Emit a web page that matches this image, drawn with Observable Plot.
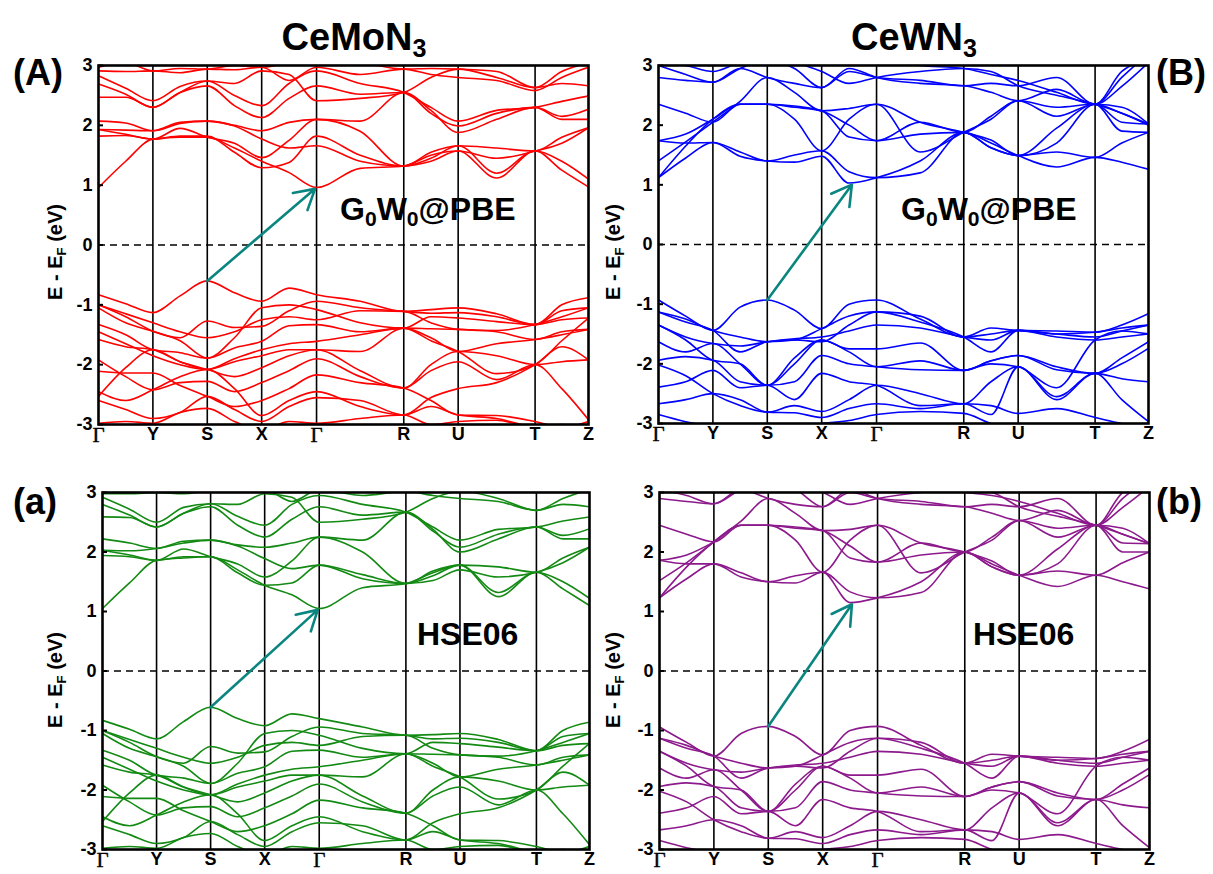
<!DOCTYPE html>
<html><head><meta charset="utf-8">
<script src="https://cdn.jsdelivr.net/npm/d3@7"></script>
<script src="https://cdn.jsdelivr.net/npm/@observablehq/plot@0.6"></script>
<style>
body{margin:0;background:#fff;}
#fig{position:relative;width:1213px;height:874px;overflow:hidden;background:#fff;font-family:"Liberation Sans",Arial,sans-serif;}
.ov{position:absolute;font-weight:bold;color:#000;white-space:nowrap;line-height:1;}
.ov sub{font-size:0.66em;vertical-align:-0.28em;line-height:0;}
.ylab{position:absolute;font-weight:bold;font-size:20px;line-height:1;white-space:nowrap;transform:translate(-50%,-50%) rotate(-90deg);}
.ylab sub{font-size:0.66em;vertical-align:-0.3em;line-height:0;}
svg{position:absolute;}
</style></head><body><div id="fig"></div>
<script>
// ---- k-path ----
const kLabels = ["Γ","Y","S","X","Γ","R","U","T","Z"];
const kTicks  = [0, 0.111, 0.222, 0.333, 0.445, 0.623, 0.734, 0.891, 1];
// sample positions: high-symmetry points and segment midpoints
const kPath = [0, 0.0555, 0.111, 0.1665, 0.222, 0.2775, 0.333, 0.389, 0.445, 0.534, 0.623, 0.6785, 0.734, 0.8125, 0.891, 0.9455, 1];
const yTicks = [-3, -2, -1, 0, 1, 2, 3];

// ---- CeMoN3 G0W0@PBE (A) ----
const moGWcond = [
 [0.96,1.40,1.77,1.80,1.80,1.62,1.40,1.21,0.96,1.28,1.32,1.50,1.57,1.12,1.57,1.25,0.97],
 [1.82,1.83,1.77,1.82,1.82,1.55,1.29,1.38,1.82,1.50,1.32,1.45,1.66,1.20,1.57,1.40,1.10],
 [1.93,1.92,1.91,2.03,2.07,1.99,1.77,1.62,1.66,1.40,1.32,1.55,1.66,1.62,1.57,1.80,1.96],
 [2.07,2.04,1.91,2.05,2.07,2.00,1.91,2.05,2.10,2.07,2.55,2.20,1.99,2.20,2.30,2.15,2.27],
 [2.47,2.47,2.30,2.55,2.66,2.33,2.13,2.45,2.66,2.52,2.55,2.25,1.88,2.10,2.30,2.10,2.10],
 [2.69,2.52,2.30,2.55,2.74,2.50,2.33,2.70,2.91,2.70,2.55,2.30,2.07,2.25,2.30,2.40,2.49],
 [2.83,2.62,2.41,2.65,2.74,2.70,2.91,2.85,2.41,2.45,2.55,2.80,2.94,2.80,2.63,2.70,2.66],
 [2.91,2.90,2.91,2.88,2.94,2.93,2.97,2.75,2.97,2.85,2.94,2.85,2.80,2.75,2.58,2.80,2.97],
 [2.97,3.05,2.91,2.95,2.94,3.00,2.97,3.05,3.10,3.05,2.94,2.95,2.94,2.90,2.63,2.90,3.05],
 [1.93,1.85,1.77,1.95,1.80,1.70,1.46,1.75,2.10,1.90,1.32,1.40,1.57,1.45,1.57,1.70,1.96]
];
const moGWval = [
 [-0.83,-0.98,-1.13,-0.85,-0.60,-0.80,-0.94,-0.72,-0.83,-0.94,-1.11,-1.08,-1.05,-1.15,-1.33,-1.00,-0.88],
 [-1.00,-1.20,-1.44,-1.55,-1.27,-1.38,-1.36,-1.10,-0.94,-1.05,-1.11,-1.14,-1.13,-1.20,-1.33,-1.10,-1.05],
 [-1.05,-1.30,-1.44,-1.60,-1.89,-1.55,-1.05,-1.00,-1.08,-1.30,-1.39,-1.20,-1.22,-1.28,-1.33,-1.25,-1.22],
 [-1.33,-1.50,-1.75,-1.80,-1.89,-1.72,-1.61,-1.35,-1.33,-1.45,-1.39,-1.40,-1.41,-1.45,-1.58,-1.45,-1.41],
 [-1.58,-1.70,-1.75,-1.95,-2.08,-1.90,-1.75,-1.65,-1.61,-1.50,-1.39,-1.55,-1.78,-1.65,-1.58,-1.50,-1.41],
 [-2.53,-2.05,-1.75,-1.95,-2.08,-2.20,-2.05,-1.85,-1.75,-2.10,-2.39,-2.00,-1.78,-1.85,-2.00,-1.95,-1.92],
 [-1.92,-2.20,-2.42,-2.30,-2.28,-2.45,-2.30,-2.10,-1.90,-2.20,-2.39,-2.10,-1.95,-2.25,-2.00,-2.40,-2.92],
 [-2.11,-2.14,-2.14,-2.35,-2.53,-2.70,-2.60,-2.40,-2.17,-2.30,-2.39,-2.60,-2.84,-2.85,-2.95,-3.05,-2.95],
 [-2.45,-2.60,-2.42,-2.20,-2.08,-2.40,-2.85,-2.60,-2.45,-2.70,-2.84,-2.55,-2.40,-2.30,-2.00,-1.70,-1.92],
 [-2.98,-2.95,-2.98,-2.80,-2.73,-2.95,-3.10,-2.95,-2.98,-2.90,-2.84,-3.00,-2.95,-2.93,-3.05,-3.00,-3.10],
 [-1.00,-1.15,-1.30,-1.45,-1.55,-1.45,-1.25,-1.20,-1.25,-1.10,-1.11,-1.30,-1.41,-1.43,-1.33,-1.20,-1.05],
 [-1.45,-1.65,-1.85,-2.00,-2.08,-1.95,-1.85,-1.75,-1.75,-1.78,-1.39,-1.60,-1.78,-2.15,-2.00,-1.60,-1.22],
 [-2.60,-2.75,-2.90,-2.80,-2.53,-2.75,-2.95,-2.70,-2.55,-2.60,-2.84,-2.70,-2.84,-2.90,-3.05,-3.10,-3.10]
];

// ---- CeWN3 G0W0@PBE (B) ----
const wGWcond = [
 [1.12,1.45,1.71,1.48,1.40,1.38,1.48,1.03,1.12,1.40,1.88,1.70,1.49,1.30,1.46,1.38,1.26],
 [1.12,1.65,2.10,2.35,2.35,2.32,2.24,2.00,1.74,1.85,1.88,1.62,1.49,1.55,1.46,1.70,1.88],
 [1.40,1.72,2.05,2.40,2.80,2.55,2.24,2.28,2.35,2.05,1.88,1.75,1.49,1.95,2.35,2.20,2.02],
 [1.74,1.70,1.71,1.55,1.40,1.50,1.57,1.22,1.12,1.20,1.88,1.62,1.49,1.70,2.35,1.90,1.88],
 [2.35,2.20,2.05,2.35,2.35,2.10,1.57,2.10,2.35,1.55,1.88,2.10,2.41,2.15,2.35,2.05,2.02],
 [2.80,2.75,2.72,2.95,3.10,2.95,2.63,2.95,2.80,2.70,2.66,2.55,2.41,2.60,2.35,2.65,3.05],
 [3.00,2.85,2.72,2.95,2.80,2.70,2.63,2.90,2.80,2.75,2.66,2.70,2.66,2.80,2.35,2.90,3.10],
 [3.05,3.00,2.90,3.05,3.10,3.05,2.90,2.70,2.80,2.90,2.95,2.90,2.66,2.50,2.35,2.20,2.00],
 [1.74,1.85,2.10,2.35,2.35,2.30,2.24,1.80,1.74,2.05,1.88,2.15,2.41,2.30,2.35,2.30,2.02],
 [3.10,3.05,3.00,3.10,3.20,3.10,3.00,3.10,3.10,3.00,2.95,2.85,2.75,2.55,2.35,2.80,3.20]
];
const wGWval = [
 [-0.93,-1.20,-1.44,-1.05,-0.93,-1.10,-1.41,-1.00,-0.93,-1.25,-1.55,-1.40,-1.44,-1.45,-1.47,-1.35,-1.16],
 [-1.13,-1.30,-1.44,-1.80,-1.63,-1.60,-1.63,-1.35,-1.13,-1.30,-1.55,-1.80,-1.44,-1.50,-1.47,-1.40,-1.35],
 [-1.35,-1.55,-1.66,-1.70,-1.63,-1.58,-1.55,-1.45,-1.35,-1.40,-1.55,-1.60,-1.44,-1.55,-1.60,-1.55,-1.50],
 [-1.63,-1.80,-1.66,-2.00,-2.36,-2.00,-1.60,-1.80,-2.05,-1.95,-2.11,-1.95,-1.86,-2.05,-2.16,-1.90,-1.63],
 [-1.94,-1.88,-1.94,-2.30,-2.36,-2.30,-1.86,-2.00,-2.05,-2.10,-2.11,-1.95,-1.86,-2.10,-2.16,-2.00,-1.74],
 [-2.02,-2.20,-2.50,-2.70,-2.81,-2.70,-2.80,-2.60,-2.36,-2.50,-2.67,-2.30,-2.05,-2.60,-2.16,-2.25,-2.30],
 [-2.39,-2.30,-2.11,-2.40,-2.36,-2.60,-2.16,-2.30,-2.36,-2.70,-2.67,-2.85,-2.05,-2.55,-2.16,-2.60,-2.97],
 [-2.67,-2.60,-2.50,-2.60,-2.81,-2.82,-2.90,-2.75,-2.67,-2.75,-2.67,-2.70,-2.83,-2.75,-2.90,-3.00,-3.05],
 [-2.85,-2.97,-3.05,-3.10,-3.00,-3.05,-3.00,-2.95,-2.85,-2.80,-2.83,-3.00,-3.10,-3.10,-3.10,-3.10,-3.10],
 [-1.13,-1.25,-1.44,-1.55,-1.63,-1.60,-1.41,-1.20,-1.13,-1.20,-1.55,-1.50,-1.44,-1.50,-1.55,-1.45,-1.35],
 [-1.35,-1.60,-1.94,-2.00,-2.36,-1.90,-1.60,-1.75,-1.75,-1.65,-2.11,-2.00,-2.05,-2.40,-1.60,-1.45,-1.50]
];

// ---- CeMoN3 HSE06 (a) ----
const moHSEcond = [
 [1.05,1.48,1.86,1.90,1.92,1.70,1.44,1.28,1.05,1.40,1.47,1.65,1.78,1.25,1.66,1.38,1.10],
 [1.94,1.92,1.86,1.92,1.92,1.65,1.44,1.48,1.78,1.62,1.47,1.60,1.78,1.32,1.66,1.50,1.22],
 [2.03,2.02,2.06,2.15,2.20,2.10,1.89,1.72,1.78,1.55,1.47,1.68,1.78,1.75,1.66,1.90,2.08],
 [2.22,2.15,2.06,2.18,2.20,2.12,2.08,2.15,2.25,2.20,2.67,2.35,2.08,2.30,2.42,2.28,2.39],
 [2.59,2.58,2.42,2.65,2.76,2.45,2.25,2.55,2.76,2.62,2.67,2.38,2.00,2.22,2.42,2.22,2.22],
 [2.80,2.62,2.42,2.65,2.81,2.60,2.45,2.80,2.95,2.80,2.67,2.42,2.20,2.38,2.42,2.52,2.59],
 [2.92,2.72,2.50,2.75,2.81,2.80,2.98,2.92,2.50,2.55,2.67,2.90,3.02,2.90,2.70,2.80,2.76],
 [2.98,2.98,3.00,2.98,3.02,3.02,3.05,2.85,3.05,2.95,3.02,2.95,2.90,2.85,2.70,2.90,3.05],
 [2.03,1.95,1.86,2.05,1.92,1.80,1.58,1.85,2.25,2.00,1.47,1.52,1.70,1.58,1.66,1.82,2.08]
];
const moHSEval = [
 [-0.83,-0.98,-1.14,-0.85,-0.61,-0.80,-0.92,-0.72,-0.80,-0.94,-1.08,-1.07,-1.05,-1.15,-1.34,-1.00,-0.86],
 [-1.00,-1.20,-1.44,-1.55,-1.27,-1.38,-1.36,-1.10,-0.94,-1.05,-1.08,-1.14,-1.13,-1.20,-1.34,-1.10,-1.05],
 [-1.05,-1.30,-1.44,-1.60,-1.89,-1.55,-1.05,-1.00,-1.08,-1.30,-1.39,-1.20,-1.22,-1.28,-1.34,-1.25,-1.22],
 [-1.33,-1.50,-1.75,-1.80,-1.89,-1.72,-1.61,-1.35,-1.33,-1.45,-1.39,-1.40,-1.41,-1.45,-1.58,-1.45,-1.41],
 [-1.58,-1.70,-1.75,-1.95,-2.08,-1.90,-1.75,-1.65,-1.61,-1.50,-1.39,-1.55,-1.78,-1.65,-1.58,-1.50,-1.41],
 [-2.53,-2.05,-1.75,-1.95,-2.08,-2.20,-2.05,-1.85,-1.75,-2.10,-2.39,-2.00,-1.78,-1.85,-2.00,-1.95,-1.92],
 [-1.92,-2.20,-2.42,-2.30,-2.28,-2.45,-2.30,-2.10,-1.90,-2.20,-2.39,-2.10,-1.95,-2.25,-2.00,-2.40,-2.92],
 [-2.11,-2.14,-2.14,-2.35,-2.53,-2.70,-2.60,-2.40,-2.17,-2.30,-2.39,-2.60,-2.84,-2.85,-2.95,-3.05,-2.95],
 [-2.45,-2.60,-2.42,-2.20,-2.08,-2.40,-2.85,-2.60,-2.45,-2.70,-2.84,-2.55,-2.40,-2.30,-2.00,-1.70,-1.92],
 [-2.98,-2.95,-2.98,-2.80,-2.73,-2.95,-3.10,-2.95,-2.98,-2.90,-2.84,-3.00,-2.95,-2.93,-3.05,-3.00,-3.10],
 [-1.00,-1.15,-1.30,-1.45,-1.55,-1.45,-1.25,-1.20,-1.25,-1.10,-1.08,-1.30,-1.41,-1.43,-1.34,-1.20,-1.05],
 [-1.45,-1.65,-1.85,-2.00,-2.08,-1.95,-1.85,-1.75,-1.75,-1.78,-1.39,-1.60,-1.78,-2.15,-2.00,-1.60,-1.22],
 [-2.60,-2.75,-2.90,-2.80,-2.53,-2.75,-2.95,-2.70,-2.55,-2.60,-2.84,-2.70,-2.84,-2.90,-3.05,-3.10,-3.10]
];

// ---- CeWN3 HSE06 (b) ----
const wHSEcond = [
 [1.23,1.55,1.80,1.58,1.50,1.48,1.66,1.15,1.23,1.50,2.00,1.80,1.61,1.42,1.61,1.50,1.38],
 [1.23,1.75,2.17,2.45,2.45,2.42,2.36,2.10,1.83,1.95,2.00,1.75,1.61,1.68,1.61,1.82,2.00],
 [1.52,1.82,2.17,2.52,2.90,2.65,2.36,2.38,2.45,2.15,2.00,1.85,1.61,2.05,2.45,2.30,2.14],
 [1.86,1.80,1.80,1.65,1.50,1.60,1.66,1.33,1.23,1.32,2.00,1.75,1.61,1.80,2.45,2.00,2.00],
 [2.45,2.30,2.17,2.45,2.45,2.20,1.66,2.20,2.45,1.65,2.00,2.20,2.53,2.25,2.45,2.15,2.14],
 [2.90,2.85,2.81,3.05,3.15,3.05,2.76,3.05,2.90,2.80,2.76,2.65,2.53,2.70,2.45,2.75,3.10],
 [3.05,2.95,2.81,3.05,2.90,2.80,2.76,3.00,2.90,2.85,2.76,2.80,2.76,2.90,2.45,3.00,3.15],
 [3.10,3.08,3.00,3.10,3.15,3.10,3.00,2.80,2.90,3.00,3.05,3.00,2.76,2.60,2.45,2.30,2.14],
 [1.86,1.95,2.17,2.45,2.45,2.40,2.36,1.90,1.83,2.15,2.00,2.25,2.53,2.40,2.45,2.40,2.14],
 [3.15,3.10,3.05,3.15,3.25,3.15,3.05,3.15,3.15,3.05,3.00,2.95,2.85,2.65,2.45,2.90,3.25]
];
const wHSEval = [
 [-0.94,-1.20,-1.43,-1.05,-0.93,-1.10,-1.41,-1.00,-0.93,-1.25,-1.55,-1.40,-1.43,-1.45,-1.47,-1.35,-1.15],
 [-1.13,-1.30,-1.43,-1.80,-1.63,-1.60,-1.63,-1.35,-1.13,-1.30,-1.55,-1.80,-1.43,-1.50,-1.47,-1.40,-1.35],
 [-1.35,-1.55,-1.66,-1.70,-1.63,-1.58,-1.55,-1.45,-1.35,-1.40,-1.55,-1.60,-1.43,-1.55,-1.60,-1.55,-1.50],
 [-1.63,-1.80,-1.66,-2.00,-2.36,-2.00,-1.60,-1.80,-2.05,-1.95,-2.11,-1.95,-1.86,-2.05,-2.16,-1.90,-1.63],
 [-1.94,-1.88,-1.94,-2.30,-2.36,-2.30,-1.86,-2.00,-2.05,-2.10,-2.11,-1.95,-1.86,-2.10,-2.16,-2.00,-1.74],
 [-2.02,-2.20,-2.50,-2.70,-2.81,-2.70,-2.80,-2.60,-2.36,-2.50,-2.67,-2.30,-2.05,-2.60,-2.16,-2.25,-2.30],
 [-2.39,-2.30,-2.11,-2.40,-2.36,-2.60,-2.16,-2.30,-2.36,-2.70,-2.67,-2.85,-2.05,-2.55,-2.16,-2.60,-2.97],
 [-2.67,-2.60,-2.50,-2.60,-2.81,-2.82,-2.90,-2.75,-2.67,-2.75,-2.67,-2.70,-2.83,-2.75,-2.90,-3.00,-3.05],
 [-2.85,-2.97,-3.05,-3.10,-3.00,-3.05,-3.00,-2.95,-2.85,-2.80,-2.83,-3.00,-3.10,-3.10,-3.10,-3.10,-3.10],
 [-1.13,-1.25,-1.43,-1.55,-1.63,-1.60,-1.41,-1.20,-1.13,-1.20,-1.55,-1.50,-1.43,-1.50,-1.55,-1.45,-1.35],
 [-1.35,-1.60,-1.94,-2.00,-2.36,-1.90,-1.60,-1.75,-1.75,-1.65,-2.11,-2.00,-2.05,-2.40,-1.60,-1.45,-1.50]
];

// gap arrows: [k start, E start, k end, E end]
const arrowA = [0.222, -0.60, 0.445, 0.96];
const arrowB = [0.222, -0.93, 0.397, 1.03];
const arrowLa = [0.222, -0.61, 0.445, 1.05];
const arrowLb = [0.222, -0.93, 0.395, 1.15];

const fig = document.getElementById("fig");
const FONT = "Liberation Sans, Arial, sans-serif";

function panel(cfg) {
  const mL = 45, mR = 8, mT = 8, mB = 24;
  const W = cfg.fw + mL + mR, H = cfg.fh + mT + mB;
  const rows = [];
  cfg.bands.forEach((b, bi) => b.forEach((e, i) => rows.push({band: bi, k: kPath[i], E: e})));
  const ticks = kTicks.map((k, i) => ({k, label: kLabels[i]}));
  const a = cfg.arrow;
  const svg = Plot.plot({
    width: W, height: H,
    marginLeft: mL, marginRight: mR, marginTop: mT, marginBottom: mB,
    x: {domain: [0, 1], axis: null},
    y: {domain: [-3, 3], axis: null},
    style: {fontFamily: FONT, background: "transparent", overflow: "visible"},
    marks: [
      Plot.ruleX(kTicks.slice(1, -1), {stroke: "#000", strokeWidth: 1.6}),
      Plot.ruleY([0], {stroke: "#000", strokeWidth: 1.6, strokeDasharray: "7,5"}),
      Plot.line(rows, {x: "k", y: "E", z: "band", stroke: cfg.color, strokeWidth: 1.6, curve: "monotone-x", clip: true}),
      Plot.arrow([{k1: a[0], e1: a[1], k2: a[2], e2: a[3]}], {x1: "k1", y1: "e1", x2: "k2", y2: "e2", stroke: "#0b8580", strokeWidth: 2.6, headLength: 13, insetEnd: 2}),
      Plot.frame({stroke: "#000", strokeWidth: 2.6}),
      Plot.axisY(yTicks, {anchor: "left", tickSize: -5, tickPadding: 11, strokeWidth: 2, tickFormat: d => String(d), fontSize: 18, fontWeight: "bold", fontFamily: FONT}),
      Plot.text(ticks.filter(d => d.label !== "Γ"), {x: "k", text: "label", frameAnchor: "bottom", dy: 15, fontSize: 18, fontWeight: "bold", fontFamily: FONT}),
      Plot.text(ticks.filter(d => d.label === "Γ"), {x: "k", text: "label", frameAnchor: "bottom", dy: 11, lineAnchor: "middle", fontSize: 21, fill: "#000", stroke: "#000", strokeWidth: 0.4, fontFamily: "Liberation Serif, Times New Roman, serif"})
    ]
  });
  svg.style.left = (cfg.fx - mL) + "px";
  svg.style.top = (cfg.fy - mT) + "px";
  fig.appendChild(svg);
}

panel({fx: 97.5, fy: 65, fw: 490, fh: 359, bands: moGWval.concat(moGWcond), color: "#ff0000", arrow: arrowA});
panel({fx: 658.3, fy: 65, fw: 490, fh: 358, bands: wGWval.concat(wGWcond), color: "#0000ff", arrow: arrowB});
panel({fx: 101.5, fy: 492, fw: 487, fh: 357, bands: moHSEval.concat(moHSEcond), color: "#138a13", arrow: arrowLa});
panel({fx: 659.3, fy: 492, fw: 490, fh: 357, bands: wHSEval.concat(wHSEcond), color: "#8c1a8c", arrow: arrowLb});

function ov(html, left, top, size, center) {
  const d = document.createElement("div");
  d.className = "ov";
  d.innerHTML = html;
  d.style.left = left + "px";
  d.style.top = top + "px";
  d.style.fontSize = size + "px";
  if (center) d.style.transform = "translateX(-50%)";
  fig.appendChild(d);
}
ov("CeMoN<sub>3</sub>", 354, 18, 38, true);
ov("CeWN<sub>3</sub>", 914, 18, 38, true);
ov("(A)", 13, 55, 36);
ov("(B)", 1156, 55, 36);
ov("(a)", 13, 484, 36);
ov("(b)", 1156, 484, 36);
ov("G<sub>0</sub>W<sub>0</sub>@PBE", 340, 193, 32);
ov("G<sub>0</sub>W<sub>0</sub>@PBE", 901, 193, 32);
ov("HSE06", 417, 618, 32);
ov("HSE06", 973, 618, 32);

function ylab(x, y) {
  const d = document.createElement("div");
  d.className = "ylab";
  d.innerHTML = "E - E<sub>F</sub> (eV)";
  d.style.left = x + "px";
  d.style.top = y + "px";
  fig.appendChild(d);
}
ylab(55, 252); ylab(613, 252); ylab(55, 680); ylab(613, 680);
</script></body></html>
